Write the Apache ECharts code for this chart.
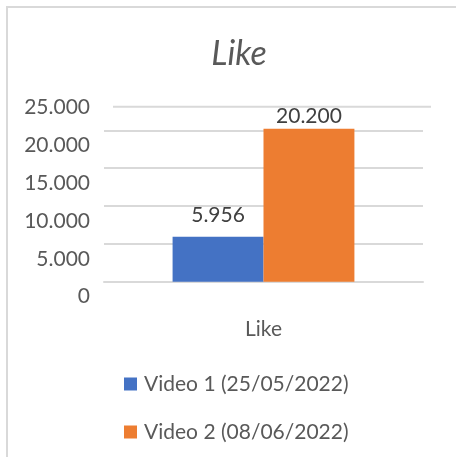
<!DOCTYPE html>
<html><head><meta charset="utf-8">
<script src="https://cdn.jsdelivr.net/npm/echarts@6/dist/echarts.min.js"></script>
<style>
html,body{margin:0;padding:0;background:#fff;overflow:hidden}
#frame{position:absolute;left:6px;top:6px;width:470px;height:470px;border:2px solid #d9d9d9;box-sizing:border-box}
#c{position:absolute;left:0;top:0;width:456px;height:457px}
</style></head>
<body>
<div id="frame"></div>
<div id="c"></div>
<script>
const titleText = 'Like';
const categories = ['Like'];
const seriesNames = ['Video 1 (25/05/2022)', 'Video 2 (08/06/2022)'];
const video1Values = [5956];
const video2Values = [20200];
const yMin = 0, yMax = 25000, yInterval = 5000;

const FONT = 'Lato';
const TXT = '#595959';
function fmt(v){ return String(Math.round(v)).replace(/\B(?=(\d{3})+(?!\d))/g, '.'); }

const chart = echarts.init(document.getElementById('c'), null, {renderer:'canvas'});
chart.setOption({
  animation:false,
  backgroundColor:'transparent',
  title:{text:titleText,left:234,textAlign:'center',top:32,
    textStyle:{fontFamily:FONT,fontStyle:'italic',fontWeight:'normal',fontSize:34,color:TXT}},
  legend:{orient:'vertical',left:119,top:368,itemWidth:13,itemHeight:13,itemGap:26,icon:'rect',
    textStyle:{fontFamily:FONT,fontSize:21,color:TXT,lineHeight:22,padding:[0,0,0,2]},
    data:seriesNames},
  grid:{left:104,right:33,top:92.5,bottom:175.3,containLabel:false},
  xAxis:{type:'category',data:categories,
    axisLine:{show:true,lineStyle:{color:'#d9d9d9',width:2}},axisTick:{show:false},
    axisLabel:{margin:37,fontFamily:FONT,fontSize:21,color:TXT}},
  yAxis:{type:'value',min:yMin,max:yMax,interval:yInterval,
    axisLine:{show:false},axisTick:{show:false},
    splitLine:{show:true,showMaxLine:false,lineStyle:{color:'#d9d9d9',width:2}},
    axisLabel:{margin:14,fontFamily:FONT,fontSize:21,color:TXT,verticalAlign:'top',lineHeight:30,formatter:fmt}},
  graphic:[{type:'line',silent:true,shape:{x1:113,y1:106.7,x2:431,y2:106.7},style:{stroke:'#d9d9d9',lineWidth:2}}],
  series:[
    {name:seriesNames[0],type:'bar',data:video1Values,barGap:'0%',barCategoryGap:'43%',
      itemStyle:{color:'#4472C4'},
      label:{show:true,position:'top',distance:11,fontFamily:FONT,fontSize:21,color:'#404040',formatter:p=>fmt(p.value)}},
    {name:seriesNames[1],type:'bar',data:video2Values,barGap:'0%',barCategoryGap:'43%',
      itemStyle:{color:'#ED7D31'},
      label:{show:true,position:'top',distance:2,fontFamily:FONT,fontSize:21,color:'#404040',formatter:p=>fmt(p.value)}}
  ]
});
</script>
</body></html>
